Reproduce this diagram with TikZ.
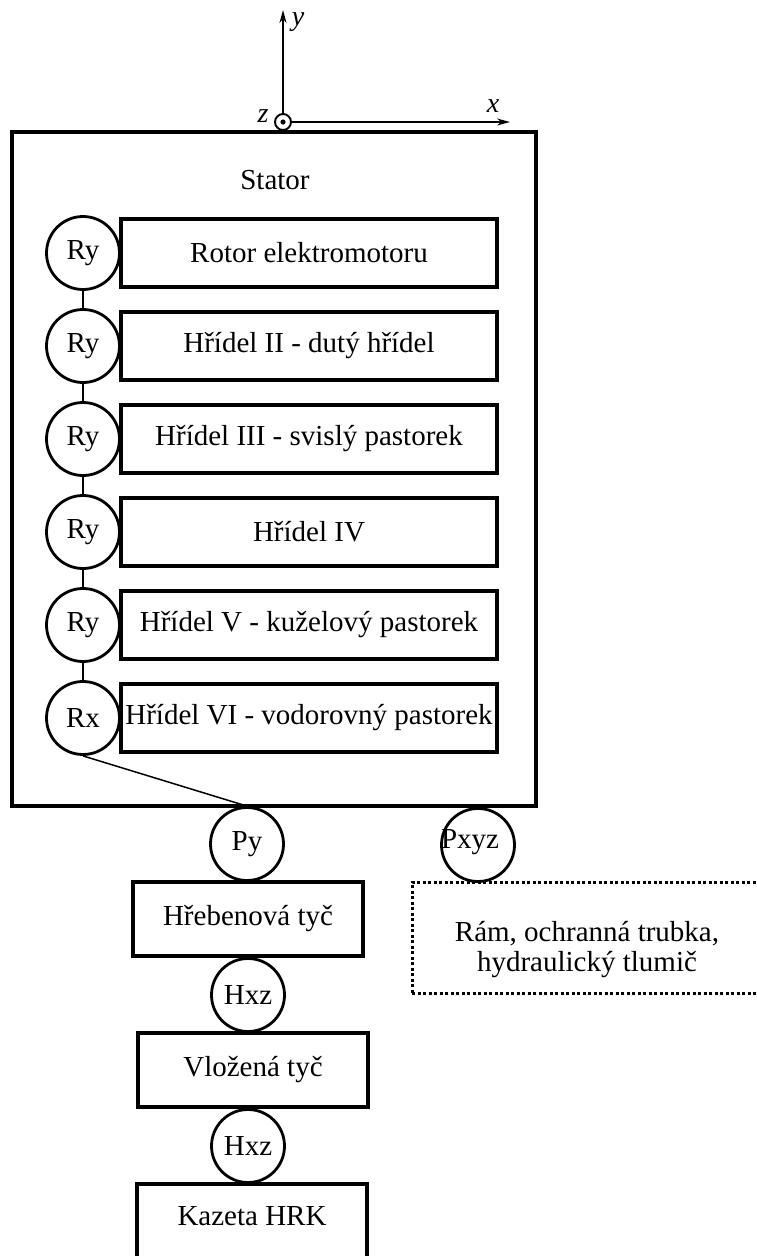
\documentclass[tikz,border=0pt]{standalone}
\usepackage{fontspec}
\setmainfont{Liberation Serif}
\usetikzlibrary{arrows.meta}
\begin{document}
\begin{tikzpicture}[x=1pt,y=-1pt,
  every node/.style={font=\fontsize{29}{34}\selectfont},
  joint/.style={draw,circle,minimum size=73pt,inner sep=0pt,line width=2.8pt},
  partbox/.style={draw,rectangle,inner sep=0pt,line width=3.2pt},
  link/.style={line width=1.5pt},
  axis/.style={line width=1.5pt,-{Stealth[length=13pt,width=7pt]}}]
\useasboundingbox (0,0) rectangle (756,1256);
% stator
\node[partbox,minimum width=524pt,minimum height=674pt] (stator) at (274,469) {};
\node (statorlbl) at (275,180) {Stator};
% axes
\node[draw,circle,minimum size=16pt,inner sep=0pt,line width=1.9pt] (o) at (283,122) {};
\fill (o.center) circle (2.6pt);
\coordinate (ytip) at (283,10);
\coordinate (xtip) at (510,122);
\draw[axis] (o.north) -- (ytip);
\draw[axis] (o.east) -- (xtip);
\node[font=\fontsize{28}{32}\selectfont\itshape] (ylbl) at (298,22) {y};
\node[font=\fontsize{28}{32}\selectfont\itshape] (xlbl) at (493,106) {x};
\node[font=\fontsize{28}{32}\selectfont\itshape] (zlbl) at (263,116) {z};
% rows
\foreach \i/\lbl/\txt in {1/Ry/Rotor elektromotoru, 2/Ry/Hřídel II - dutý hřídel, 3/Ry/Hřídel III - svislý pastorek, 4/Ry/Hřídel IV, 5/Ry/Hřídel V - kuželový pastorek, 6/Rx/Hřídel VI - vodorovný pastorek}{
  \node[joint] (j\i) at (83,{253+93*(\i-1)}) {\lbl};
  \node[partbox,minimum width=376pt,minimum height=68pt] (b\i) at (309,{253+93*(\i-1)}) {\txt};
}
\foreach \a/\b in {1/2,2/3,3/4,4/5,5/6}{\draw[link] (j\a.south) -- (j\b.north);}
% lower chain
\node[joint] (py) at (247,844) {Py};
\draw[link] (j6.south) -- (py.north);
\node[joint] (pxyz) at (478,845) {};
\node (pxyzlbl) at (470,842) {Pxyz};
\node[partbox,minimum width=230pt,minimum height=74pt] (heb) at (248,919) {Hřebenová tyč};
\node[joint] (h1) at (248,995) {Hxz};
\node[partbox,minimum width=230pt,minimum height=74pt] (vlo) at (253,1070) {Vložená tyč};
\node[joint] (h2) at (248,1146) {Hxz};
\node[partbox,minimum width=230pt,minimum height=78pt] (kaz) at (252,1223) {};
\node (kazlbl) at (252,1216) {Kazeta HRK};
% frame (dotted)
\node[draw,rectangle,line width=3pt,dash pattern=on 3pt off 2.5pt,minimum width=350pt,minimum height=111pt,inner sep=0pt] (ram) at (587,937.5) {};
\node[align=center,font=\fontsize{29}{30}\selectfont] (ramlbl) at (587,950) {Rám, ochranná trubka,\\hydraulický tlumič};
\end{tikzpicture}
\end{document}
